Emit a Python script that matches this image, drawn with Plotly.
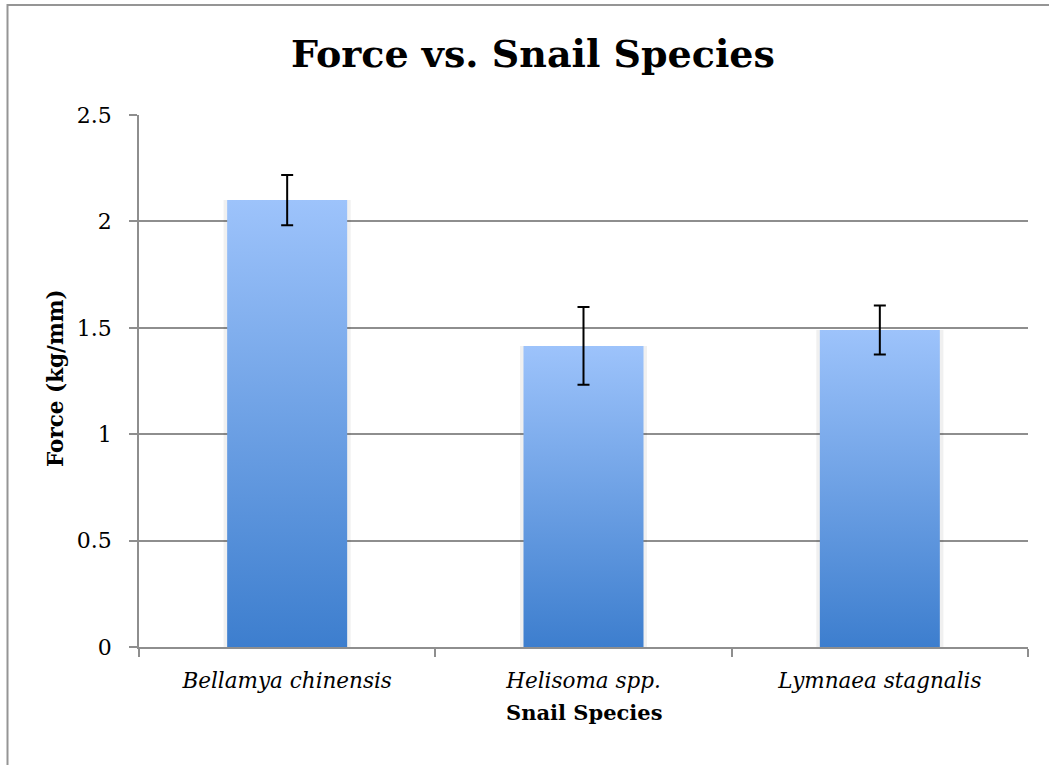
import plotly.graph_objects as go

categories = ["Bellamya chinensis", "Helisoma spp.", "Lymnaea stagnalis"]
force = [2.10, 1.415, 1.49]
error = [0.118, 0.183, 0.115]
y_ticks = [0, 0.5, 1, 1.5, 2, 2.5]

FONT = "DejaVu Serif"
GRAY = "#8E8E8E"
TOP_COLOR = "#9DC3FB"
BOTTOM_COLOR = "#3D7ECE"
BAR_W = 0.405

fig = go.Figure()

# invisible bar trace on categorical axis (carries the categories / hover)
fig.add_trace(go.Bar(x=categories, y=force,
                     marker=dict(color="rgba(0,0,0,0)", line=dict(width=0)),
                     hoverinfo="x+y", showlegend=False, xaxis="x", yaxis="y"))

idx = list(range(len(categories)))
for i, v in zip(idx, force):
    sw = BAR_W / 2 + 0.012
    fig.add_trace(go.Scatter(
        x=[i - sw, i + sw, i + sw, i - sw, i - sw], y=[0, 0, v, v, 0],
        fill="toself", mode="lines", line=dict(width=0),
        fillcolor="rgba(0,0,0,0.06)", hoverinfo="skip", showlegend=False,
        xaxis="x2", yaxis="y"))
    hw = BAR_W / 2
    fig.add_trace(go.Scatter(
        x=[i - hw, i + hw, i + hw, i - hw, i - hw], y=[0, 0, v, v, 0],
        fill="toself", mode="lines", line=dict(width=0),
        fillgradient=dict(type="vertical",
                          colorscale=[[0, BOTTOM_COLOR], [1, TOP_COLOR]]),
        hoverinfo="skip", showlegend=False, xaxis="x2", yaxis="y"))

fig.add_trace(go.Scatter(
    x=idx, y=force, mode="markers", marker=dict(size=1, color="rgba(0,0,0,0)"),
    error_y=dict(type="data", array=error, visible=True, color="black",
                 thickness=2, width=6),
    hoverinfo="skip", showlegend=False, xaxis="x2", yaxis="y"))

fig.update_layout(
    width=1049, height=765,
    margin=dict(l=139, r=21, t=115, b=118),
    paper_bgcolor="white", plot_bgcolor="white",
    font=dict(family=FONT, size=21, color="black"),
    title=dict(text="<b>Force vs. Snail Species</b>", font=dict(size=38, family=FONT),
               x=533 / 1049, xanchor="center", xref="container",
               y=1 - 54 / 765, yanchor="middle", yref="container"),
    xaxis=dict(type="category", categoryorder="array", categoryarray=categories,
               range=[-0.5, 2.5], showline=True, linecolor=GRAY, linewidth=1.5,
               ticks="outside", tickson="boundaries", ticklen=8, tickcolor=GRAY,
               tickwidth=1.5, showgrid=False, zeroline=False,
               tickfont=dict(family=FONT, size=21.5, style="italic"),
               ticklabelstandoff=13),
    xaxis2=dict(overlaying="x", range=[-0.5, 2.5], visible=False),
    yaxis=dict(range=[0, 2.5], tickvals=y_ticks, showline=True, linecolor=GRAY,
               linewidth=1.5, ticks="outside", ticklen=8, tickcolor=GRAY,
               tickwidth=1.5, showgrid=True, gridcolor=GRAY, gridwidth=1.5,
               zeroline=False, tickfont=dict(family=FONT, size=22),
               ticklabelstandoff=13),
    annotations=[
        dict(text="<b>Snail Species</b>", xref="paper", yref="paper",
             x=0.5, y=(647 - 712) / 532, xanchor="center", yanchor="middle",
             showarrow=False, font=dict(family=FONT, size=21)),
        dict(text="<b>Force (kg/mm)</b>", xref="paper", yref="paper",
             x=(55 - 139) / 889, y=(647 - 378) / 532, xanchor="center",
             yanchor="middle", textangle=-90, showarrow=False,
             font=dict(family=FONT, size=21.5)),
    ],
    shapes=[dict(type="rect", xref="paper", yref="paper",
                 x0=(7.5 - 139) / 889, x1=(1070 - 139) / 889,
                 y0=(647 - 790) / 532, y1=(647 - 5) / 532,
                 line=dict(color="#959595", width=2), fillcolor="rgba(0,0,0,0)",
                 layer="above")],
)

fig.write_html("out.html", config={"displayModeBar": False},
               post_script="document.body.style.margin='0px';")
